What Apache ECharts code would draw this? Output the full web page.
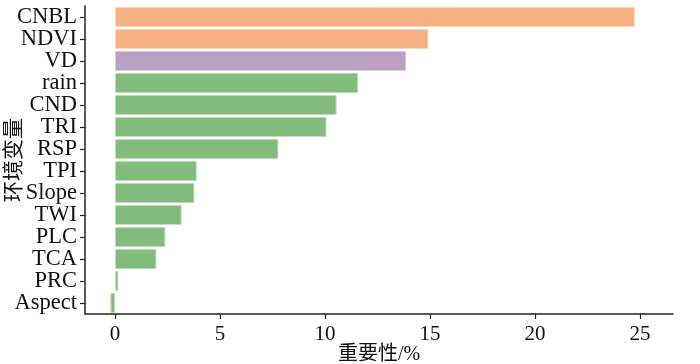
<!DOCTYPE html>
<html><head><meta charset="utf-8">
<script src="https://cdn.jsdelivr.net/npm/echarts@6/dist/echarts.min.js"></script>
<style>html,body{margin:0;padding:0;background:#fff}#c{width:700px;height:364px}</style>
</head><body><div id="c"></div>
<script>
const categories = ['CNBL','NDVI','VD','rain','CND','TRI','RSP','TPI','Slope','TWI','PLC','TCA','PRC','Aspect'];
const values = [24.75, 14.92, 13.87, 11.58, 10.55, 10.07, 7.78, 3.89, 3.78, 3.17, 2.40, 1.97, 0.16, -0.22];
const groups = ['a','a','b','c','c','c','c','c','c','c','c','c','c','c'];
const xTicks = [0, 5, 10, 15, 20, 25];
const palette = {a: '#F6B07F', b: '#B9A0C3', c: '#81BC7C'};
const borders = {a: '#FBD6BC', b: '#DCCFE1', c: '#C0DEBE'};

const FONT = "'Liberation Serif', 'Noto Sans CJK SC', serif";
const chart = echarts.init(document.getElementById('c'), null, {renderer: 'canvas'});
chart.setOption({
  animation: false,
  grid: {left: 85, right: 27, top: 6, bottom: 50, containLabel: false, outerBoundsMode: 'none'},
  xAxis: {
    type: 'value', min: -1.43, max: 26.57,
    splitLine: {show: false},
    axisLine: {show: true, onZero: false, lineStyle: {color: '#222', width: 1.5}},
    axisTick: {show: true, length: 5, customValues: xTicks, lineStyle: {color: '#222', width: 1.2}},
    axisLabel: {customValues: xTicks, color: '#111', fontFamily: FONT, fontSize: 21, margin: 10},
    name: '重要性/%', nameLocation: 'middle', nameGap: 31, nameMoveOverlap: false,
    nameTextStyle: {color: '#111', fontFamily: FONT, fontSize: 20}
  },
  yAxis: {
    type: 'category', data: categories, inverse: true,
    axisLine: {show: true, onZero: false, lineStyle: {color: '#222', width: 1.5}},
    axisTick: {show: true, length: 5, alignWithLabel: true, interval: 0, lineStyle: {color: '#222', width: 1.2}},
    axisLabel: {interval: 0, color: '#111', fontFamily: FONT, fontSize: 22.5, margin: 8},
    name: '环境变量', nameLocation: 'middle', nameGap: 60, nameRotate: 90, nameMoveOverlap: false,
    nameTextStyle: {color: '#111', fontFamily: FONT, fontSize: 21}
  },
  series: [{
    type: 'bar',
    barWidth: '91%',
    data: values.map((v, i) => ({
      value: v,
      itemStyle: {color: palette[groups[i]], borderColor: borders[groups[i]], borderWidth: 1}
    }))
  }]
});
</script></body></html>
